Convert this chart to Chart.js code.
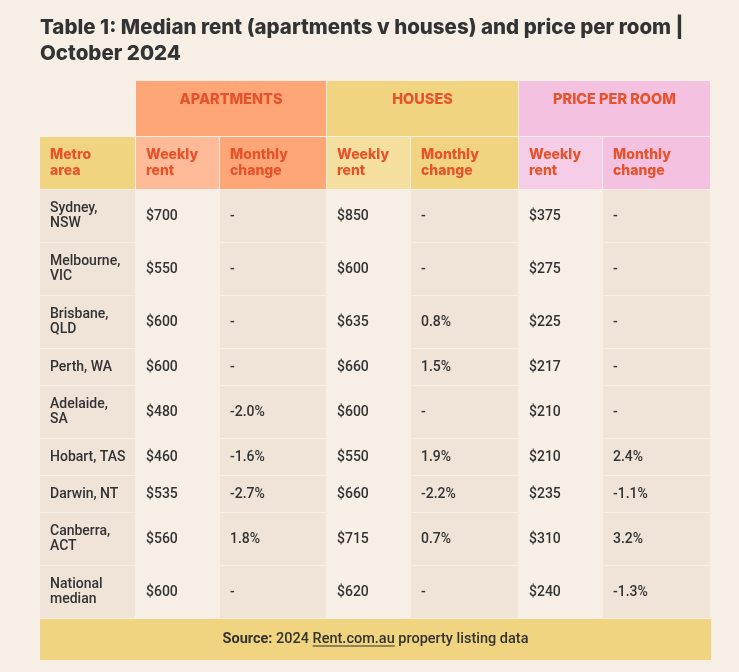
<!DOCTYPE html>
<html>
<head>
<meta charset="utf-8">
<script src="https://cdn.jsdelivr.net/npm/chart.js@4.4.1/dist/chart.umd.min.js"></script>
<style>
    html, body { margin: 0; padding: 0; background: #f7efe5; }
    #wrap { width: 739px; height: 672px; }
</style>
</head>
<body>
<div id="wrap"><canvas id="myChart"></canvas></div>
<script>
// table data
let groups = ['APARTMENTS', 'HOUSES', 'PRICE PER ROOM'];
let subHeaders = [['Metro', 'area'], ['Weekly', 'rent'], ['Monthly', 'change'], ['Weekly', 'rent'], ['Monthly', 'change'], ['Weekly', 'rent'], ['Monthly', 'change']];
let metros = [['Sydney,', 'NSW'], ['Melbourne,', 'VIC'], ['Brisbane,', 'QLD'], ['Perth, WA'], ['Adelaide,', 'SA'], ['Hobart, TAS'], ['Darwin, NT'], ['Canberra,', 'ACT'], ['National', 'median']];
let aptWeekly = [700, 550, 600, 600, 480, 460, 535, 560, 600];
let aptChange = [null, null, null, null, -2.0, -1.6, -2.7, 1.8, null];
let houseWeekly = [850, 600, 635, 660, 600, 550, 660, 715, 620];
let houseChange = [null, null, 0.8, 1.5, null, 1.9, -2.2, 0.7, null];
let roomWeekly = [375, 275, 225, 217, 210, 210, 235, 310, 240];
let roomChange = [null, null, null, null, null, 2.4, -1.1, 3.2, -1.3];
let sourceText = ['Source:', ' 2024 ', 'Rent.com.au', ' property listing data'];

// layout / style
let colWidths = [96, 84, 107, 84, 108, 84, 108];
let groupColors = ['#ffa677', '#f0d47f', '#f4c1e0'];
let subColors = ['#f0d47f', '#ffbb97', '#ffa677', '#f5df9f', '#f0d47f', '#f5cde6', '#f4c1e0'];
let bodyColors = ['#f0e3d7', '#f7efe5', '#f0e3d7', '#f7efe5', '#f0e3d7', '#f7efe5', '#f0e3d7'];
let orange = '#e8522b';
let dark = '#333333';

function money(v) {
    return '$' + v;
}

function change(v) {
    return v === null ? '-' : v.toFixed(1) + '%';
}

function colEdges() {
    let edges = [0];
    colWidths.forEach(w => edges.push(edges[edges.length - 1] + w));
    return edges;
}

function rowLayout() {
    let rows = [{kind: 'group', h: 56}, {kind: 'sub', h: 53}];
    metros.forEach((m, i) => rows.push({kind: 'body', h: m.length > 1 ? 53 : 37, i: i}));
    rows.push({kind: 'source', h: 41});
    let y = 0;
    rows.forEach(r => { r.y0 = y; y += r.h; r.y1 = y; });
    return rows;
}

const tablePlugin = {
    id: 'rentTable',
    beforeDatasetsDraw(chart) {
        let ctx = chart.ctx;
        let px = v => chart.scales.x.getPixelForValue(v);
        let py = v => chart.scales.y.getPixelForValue(v);
        let edges = colEdges();
        let rows = rowLayout();

        function cell(c0, c1, r, fill, gap) {
            let x0 = px(edges[c0]), x1 = px(edges[c1]);
            let y0 = py(r.y0), y1 = py(r.y1);
            ctx.fillStyle = fill;
            ctx.fillRect(x0, y0, x1 - x0 - gap, y1 - y0 - gap);
        }

        function lines(texts, x, yc, step, align) {
            ctx.textAlign = align || 'left';
            ctx.textBaseline = 'middle';
            let start = yc - (texts.length - 1) * step / 2;
            texts.forEach((t, k) => ctx.fillText(t, x, start + k * step));
        }

        ctx.save();
        rows.forEach(r => {
            let yc = (py(r.y0) + py(r.y1) - 1) / 2;
            if (r.kind === 'group') {
                groups.forEach((g, k) => {
                    let c0 = 1 + k * 2;
                    cell(c0, c0 + 2, r, groupColors[k], 1);
                    ctx.fillStyle = orange;
                    ctx.font = '800 14.5px Inter';
                    lines([g], (px(edges[c0]) + px(edges[c0 + 2]) - 1) / 2, py(r.y0) + 19, 16, 'center');
                });
            } else if (r.kind === 'sub') {
                subHeaders.forEach((s, c) => {
                    cell(c, c + 1, r, subColors[c], 1);
                    ctx.fillStyle = orange;
                    ctx.font = '800 14px Inter';
                    lines(s, px(edges[c]) + 10, yc, 16);
                });
            } else if (r.kind === 'body') {
                let i = r.i;
                let vals = [metros[i], [money(aptWeekly[i])], [change(aptChange[i])], [money(houseWeekly[i])],
                    [change(houseChange[i])], [money(roomWeekly[i])], [change(roomChange[i])]];
                vals.forEach((v, c) => {
                    cell(c, c + 1, r, bodyColors[c], 1);
                    ctx.fillStyle = dark;
                    ctx.font = '500 14px Roboto';
                    lines(v, px(edges[c]) + 10, yc, 15.5);
                });
            } else {
                cell(0, edges.length - 1, r, '#f0d47f', 0);
                let fonts = ['bold 14.5px Roboto', '500 14.5px Roboto', '500 14.5px Roboto', '500 14.5px Roboto'];
                let widths = sourceText.map((t, k) => { ctx.font = fonts[k]; return ctx.measureText(t).width; });
                let total = widths.reduce((a, b) => a + b, 0);
                let x = (px(edges[0]) + px(edges[edges.length - 1])) / 2 - total / 2;
                let ym = (py(r.y0) + py(r.y1)) / 2;
                ctx.fillStyle = dark;
                ctx.textAlign = 'left';
                ctx.textBaseline = 'middle';
                sourceText.forEach((t, k) => {
                    ctx.font = fonts[k];
                    ctx.fillText(t, x, ym);
                    if (k === 2) {
                        ctx.fillRect(x, ym + 6, widths[k], 1);
                    }
                    x += widths[k];
                });
            }
        });
        ctx.restore();
    }
};

window.onload = () => {
    let ctx = document.getElementById('myChart').getContext('2d');
    let edges = colEdges();
    let rows = rowLayout();
    new Chart(ctx, {
        type: 'scatter',
        data: {datasets: [{data: []}]},
        options: {
            responsive: true,
            maintainAspectRatio: false,
            devicePixelRatio: 1,
            animation: false,
            events: [],
            layout: {padding: {left: 40, right: 28, top: 0, bottom: 12}},
            plugins: {
                legend: {display: false},
                tooltip: {enabled: false},
                title: {
                    display: true,
                    align: 'start',
                    text: ['Table 1: Median rent (apartments v houses) and price per room |', 'October 2024'],
                    color: dark,
                    font: {family: 'Inter', size: 20.5, weight: 800, lineHeight: 26 / 20.5},
                    padding: {top: 15, bottom: 14}
                }
            },
            scales: {
                x: {type: 'linear', display: false, min: 0, max: edges[edges.length - 1]},
                y: {type: 'linear', display: false, reverse: true, min: 0, max: rows[rows.length - 1].y1}
            }
        },
        plugins: [tablePlugin]
    });
};
</script>
</body>
</html>
